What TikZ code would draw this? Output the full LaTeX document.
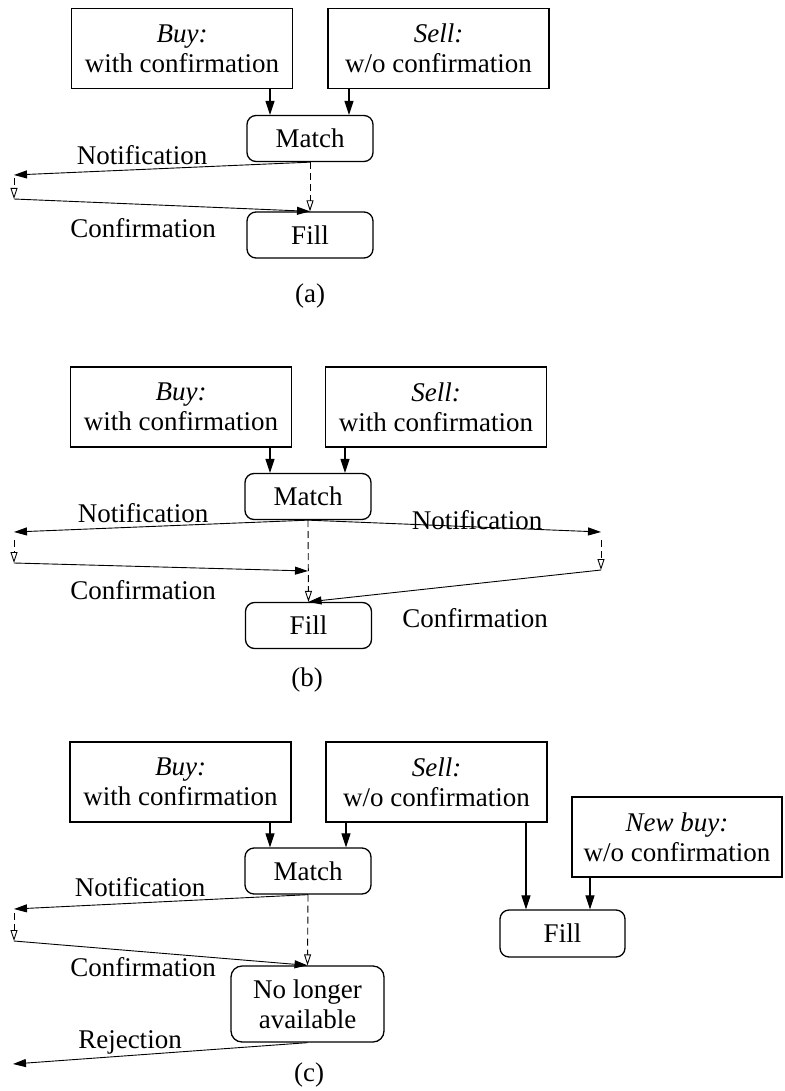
\documentclass[tikz,border=0pt]{standalone}
\usepackage{fontspec}
\setmainfont{Liberation Serif}
\usetikzlibrary{arrows.meta}
\begin{document}
\begin{tikzpicture}[x=1pt,y=-1pt,
  every node/.style={font=\fontsize{27}{30}\selectfont},
  order/.style={draw,line width=1.3pt,rectangle,minimum width=221pt,minimum height=80pt,inner sep=0pt,align=center},
  state/.style={draw,line width=1.3pt,rounded corners=9pt,minimum width=126pt,minimum height=46pt,inner sep=0pt,align=center},
  msg/.style={line width=0.9pt,-{Triangle[length=13pt,width=8pt]}},
  flow/.style={line width=0.9pt,dash pattern=on 7pt off 4pt,-{Triangle[open,length=11pt,width=7pt]}},
  feed/.style={line width=1.1pt,-{Triangle[length=14pt,width=9pt]}},
]
\useasboundingbox (0,0) rectangle (784,1091);

% ---------------- (a) ----------------
\node[order] (ba) at (182,48.5) {\textit{Buy:}\\with confirmation};
\node[order] (sa) at (438.5,48.5) {\textit{Sell:}\\w/o confirmation};
\node[state] (ma) at (310,138.5) {Match};
\node[state] (fa) at (310,235) {Fill};
\draw[feed] ([xshift=-40pt]ma.north |- ba.south) -- ([xshift=-40pt]ma.north);
\draw[feed] ([xshift=39pt]ma.north |- sa.south) -- ([xshift=39pt]ma.north);
\coordinate (aN) at (14,175);
\coordinate (aN1) at (14,178);
\coordinate (aC) at (14,199);
\draw[msg] (ma.south) -- (aN);
\draw[flow] (aN1) -- (aC);
\draw[msg] (aC) -- (fa.north);
\draw[flow] (ma.south) -- (fa.north);
\node (aNl) at (142,155) {Notification};
\node (aCl) at (143,228) {Confirmation};
\node (acap) at (310,296) {(a)};

% ---------------- (b) ----------------
\node[order] (bb) at (181,407) {\textit{Buy:}\\with confirmation};
\node[order] (sb) at (436,407) {\textit{Sell:}\\with confirmation};
\node[state] (mb) at (308,496.5) {Match};
\node[state] (fb) at (308.5,625.5) {Fill};
\draw[feed] ([xshift=-38pt]mb.north |- bb.south) -- ([xshift=-38pt]mb.north);
\draw[feed] ([xshift=37pt]mb.north |- sb.south) -- ([xshift=37pt]mb.north);
\coordinate (bN) at (14,532);
\coordinate (bN1) at (14,540);
\coordinate (bC) at (14,563);
\coordinate (bCe) at (308,571);
\coordinate (bNr) at (601,532);
\coordinate (bNr1) at (601,540);
\coordinate (bCr) at (601,570);
\draw[msg] (mb.south) -- (bN);
\draw[msg] (mb.south) -- (bNr);
\draw[flow] (bN1) -- (bC);
\draw[msg] (bC) -- (bCe);
\draw[flow] (bNr1) -- (bCr);
\draw[msg] (bCr) -- (fb.north);
\draw[flow] (mb.south) -- (fb.north);
\node (bNl) at (143,513) {Notification};
\node (bNrl) at (477,520) {Notification};
\node (bCl) at (143,590) {Confirmation};
\node (bCrl) at (475,618) {Confirmation};
\node (bcap) at (307,680) {(b)};

% ---------------- (c) ----------------
\node[order] (bc) at (180.5,782) {\textit{Buy:}\\with confirmation};
\node[order] (sc) at (436.5,782) {\textit{Sell:}\\w/o confirmation};
\node[order,minimum width=210pt] (nc) at (677,837) {\textit{New buy:}\\w/o confirmation};
\node[state] (mc) at (308,871) {Match};
\node[state,minimum width=125pt,minimum height=47pt] (fc) at (562.5,933.5) {Fill};
\node[state,minimum width=153pt,minimum height=76pt,rounded corners=11pt] (xc) at (307.5,1004) {No longer\\available};
\draw[feed] ([xshift=-38pt]mc.north |- bc.south) -- ([xshift=-38pt]mc.north);
\draw[feed] ([xshift=38pt]mc.north |- sc.south) -- ([xshift=38pt]mc.north);
\draw[feed] ([xshift=-36.5pt]fc.north |- sc.south) -- ([xshift=-36.5pt]fc.north);
\draw[feed] ([xshift=27.5pt]fc.north |- nc.south) -- ([xshift=27.5pt]fc.north);
\coordinate (cN) at (14,909);
\coordinate (cN1) at (14,913);
\coordinate (cC) at (14,941);
\coordinate (cR) at (13,1064);
\draw[msg] (mc.south) -- (cN);
\draw[flow] (cN1) -- (cC);
\draw[msg] (cC) -- (xc.north);
\draw[flow] (mc.south) -- (xc.north);
\draw[msg] (xc.south) -- (cR);
\node (cNl) at (140,887) {Notification};
\node (cCl) at (143,967) {Confirmation};
\node (cRl) at (130,1042) {Rejection};
\node (ccap) at (309,1075) {(c)};
\end{tikzpicture}
\end{document}
